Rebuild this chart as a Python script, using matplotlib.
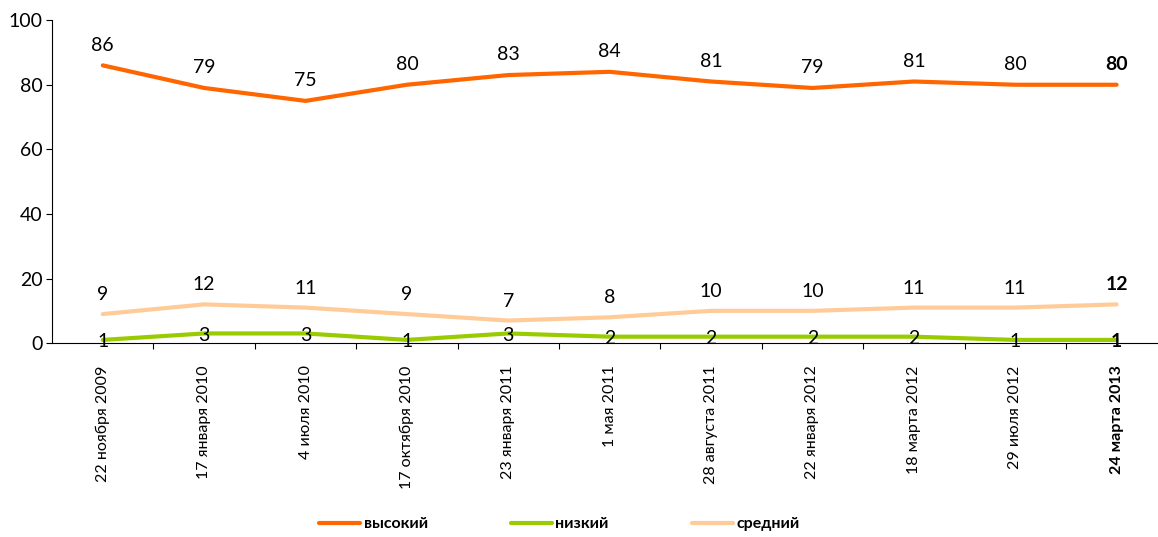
import matplotlib
matplotlib.use("Agg")
import matplotlib.pyplot as plt

plt.rcParams['font.family'] = ['Lato', 'DejaVu Sans']

# Survey waves
dates = ["22 ноября 2009", "17 января 2010", "4 июля 2010", "17 октября 2010",
         "23 января 2011", "1 мая 2011", "28 августа 2011", "22 января 2012",
         "18 марта 2012", "29 июля 2012", "24 марта 2013"]

# Share of answers, %
high = [86, 79, 75, 80, 83, 84, 81, 79, 81, 80, 80]
low = [1, 3, 3, 1, 3, 2, 2, 2, 2, 1, 1]
mid = [9, 12, 11, 9, 7, 8, 10, 10, 11, 11, 12]

series_names = ["высокий", "низкий", "средний"]
colors = ["#FF6600", "#99CC00", "#FFCC99"]

fig = plt.figure(figsize=(11.58, 5.37), dpi=100)
ax = fig.add_axes([0.045, 0.361, 0.963, 0.6015])

x = list(range(len(dates)))
last = len(dates) - 1

ax.plot(x, high, color=colors[0], lw=3, label=series_names[0], solid_capstyle="round", zorder=3)
ax.plot(x, low, color=colors[1], lw=3, label=series_names[1], solid_capstyle="round", zorder=3)
ax.plot(x, mid, color=colors[2], lw=3, label=series_names[2], solid_capstyle="round", zorder=3)

# value labels: above the line for high/mid, centred on the line for low
for i in x:
    w = "bold" if i == last else "normal"
    ax.annotate(str(high[i]), (i, high[i]), xytext=(0, 14.5), textcoords="offset points",
                ha="center", va="center", fontsize=14, fontweight=w, zorder=5)
    ax.annotate(str(mid[i]), (i, mid[i]), xytext=(0, 14), textcoords="offset points",
                ha="center", va="center", fontsize=14, fontweight=w, zorder=5)
    ax.annotate(str(low[i]), (i, low[i]), xytext=(0, -1.5), textcoords="offset points",
                ha="center", va="center", fontsize=14, fontweight=w, zorder=5)

ax.set_ylim(0, 100)
ax.set_xlim(-0.5, len(dates) - 0.5)
ax.set_yticks(range(0, 101, 20))
ax.tick_params(axis="y", labelsize=14, length=4, width=0.8, pad=3)

# category labels rotated under the axis, tick marks between categories
ax.set_xticks(x)
ax.set_xticklabels(dates, rotation=90, fontsize=11.5)
ax.tick_params(axis="x", length=0, pad=16)
ax.set_xticks([i - 0.5 for i in range(1, len(dates) + 1)], minor=True)
ax.tick_params(axis="x", which="minor", length=4, width=0.8)
ax.get_xticklabels()[last].set_fontweight("bold")

for side in ["top", "right"]:
    ax.spines[side].set_visible(False)
for side in ["left", "bottom"]:
    ax.spines[side].set_linewidth(0.8)
ax.spines["bottom"].set_zorder(4)

fig.legend(loc="center", bbox_to_anchor=(0.483, 0.024), ncol=3, frameon=False,
           prop={"size": 11.5, "weight": "bold"}, handlelength=2.6, handletextpad=0.2,
           columnspacing=5.2)

fig.savefig("out.png", dpi=100)
